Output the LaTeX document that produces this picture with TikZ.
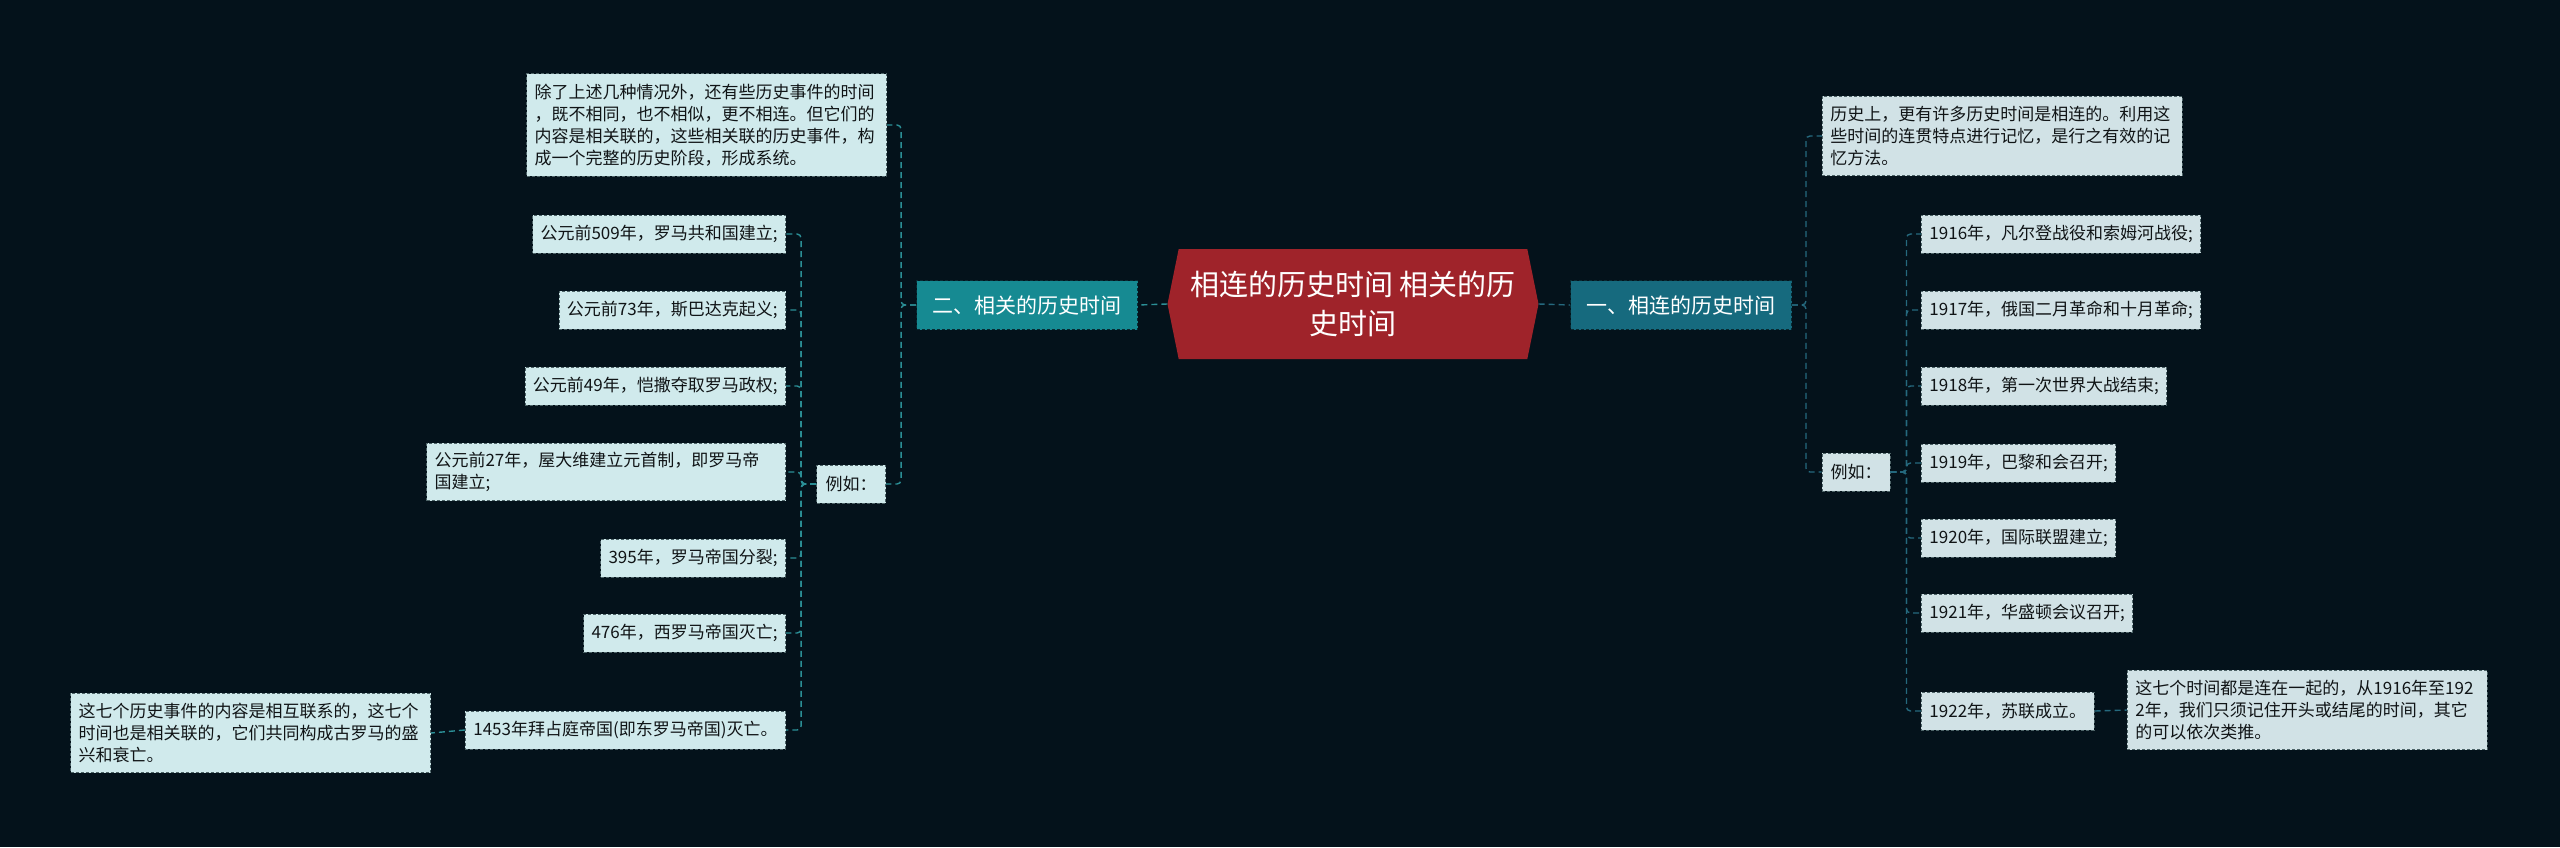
\documentclass[tikz,border=0pt]{standalone}
\usepackage{fontspec}
\setmainfont{Noto Sans CJK SC}
\usetikzlibrary{shapes.symbols}
\definecolor{bg}{HTML}{04121B}
\definecolor{rootred}{HTML}{9F232A}
\definecolor{brL}{HTML}{168A92}
\definecolor{brR}{HTML}{166A7E}
\definecolor{leafL}{HTML}{D0EAEC}
\definecolor{leafR}{HTML}{D1E2E6}
\definecolor{leafborder}{HTML}{4E6468}
\definecolor{lineL}{HTML}{2B8F96}
\definecolor{lineR}{HTML}{25697E}
\definecolor{txt}{HTML}{101416}
\tikzset{
  leafbox/.style={draw=leafborder, dash pattern=on 3pt off 2pt, line width=0.9pt,
    text=txt, font=\fontsize{17}{22}\selectfont, align=left,
    inner xsep=8pt, inner ysep=10pt},
  leafl/.style={leafbox, fill=leafL},
  leafr/.style={leafbox, fill=leafR},
  single/.style={minimum height=38pt, inner ysep=0pt},
  notew/.style={text width=344pt},
  branchbox/.style={draw=black!60!brR, dash pattern=on 3pt off 2pt, line width=0.9pt,
    text=white, font=\fontsize{21}{26}\selectfont, minimum width=221pt, minimum height=49pt, inner sep=0pt},
  conl/.style={draw=lineL, dash pattern=on 6pt off 4pt, line width=1.4pt, rounded corners=4pt},
  conr/.style={draw=lineR, dash pattern=on 6pt off 4pt, line width=1.4pt, rounded corners=4pt},
}
\begin{document}
\begin{tikzpicture}[x=1pt,y=-1pt]
\fill[bg] (0,0) rectangle (2560,847);
\useasboundingbox (0,0) rectangle (2560,847);

% root
\node[signal, signal to=west and east, signal pointer angle=157, fill=rootred,
  minimum width=371pt, minimum height=110pt, inner sep=0pt, text=white,
  align=center, font=\fontsize{29}{39}\selectfont] (root) at (1353,304)
  {相连的历史时间 相关的历\\史时间};

% branches
\node[branchbox, fill=brR] (b1) at (1681,305) {一、相连的历史时间};
\node[branchbox, fill=brL] (b2) at (1027,305) {二、相关的历史时间};

% right side
\node[leafr, notew, anchor=west] (rn) at (1822,136) {历史上，更有许多历史时间是相连的。利用这\\些时间的连贯特点进行记忆，是行之有效的记\\忆方法。};
\node[leafr, single, anchor=center, minimum width=68pt, inner xsep=0pt] (rex) at (1856,472) {例如：};
\node[leafr, single, anchor=west] (r1) at (1921,234) {1916年，凡尔登战役和索姆河战役;};
\node[leafr, single, anchor=west] (r2) at (1921,310) {1917年，俄国二月革命和十月革命;};
\node[leafr, single, anchor=west] (r3) at (1921,386) {1918年，第一次世界大战结束;};
\node[leafr, single, anchor=west] (r4) at (1921,463) {1919年，巴黎和会召开;};
\node[leafr, single, anchor=west] (r5) at (1921,538) {1920年，国际联盟建立;};
\node[leafr, single, anchor=west] (r6) at (1921,613) {1921年，华盛顿会议召开;};
\node[leafr, single, anchor=west] (r7) at (1921,711) {1922年，苏联成立。};
\node[leafr, notew, anchor=west] (rn2) at (2127,710) {这七个时间都是连在一起的，从1916年至192\\2年，我们只须记住开头或结尾的时间，其它\\的可以依次类推。};

% left side
\node[leafl, notew, anchor=east] (ln) at (887,125) {除了上述几种情况外，还有些历史事件的时间\\，既不相同，也不相似，更不相连。但它们的\\内容是相关联的，这些相关联的历史事件，构\\成一个完整的历史阶段，形成系统。};
\node[leafl, single, anchor=center, minimum width=69pt, inner xsep=0pt] (lex) at (851,484) {例如：};
\node[leafl, single, anchor=east] (l1) at (786,234) {公元前509年，罗马共和国建立;};
\node[leafl, single, anchor=east] (l2) at (786,310) {公元前73年，斯巴达克起义;};
\node[leafl, single, anchor=east] (l3) at (786,386) {公元前49年，恺撒夺取罗马政权;};
\node[leafl, anchor=east, text width=343pt, inner ysep=9pt] (l4) at (786,472) {公元前27年，屋大维建立元首制，即罗马帝\\国建立;};
\node[leafl, single, anchor=east] (l5) at (786,558) {395年，罗马帝国分裂;};
\node[leafl, single, anchor=east] (l6) at (786,633) {476年，西罗马帝国灭亡;};
\node[leafl, single, anchor=east] (l7) at (786,730) {1453年拜占庭帝国(即东罗马帝国)灭亡。};
\node[leafl, notew, anchor=east] (ln2) at (431,733) {这七个历史事件的内容是相互联系的，这七个\\时间也是相关联的，它们共同构成古罗马的盛\\兴和衰亡。};

% connectors
\draw[conl] (root.west) -- (b2.east);
\draw[conr] (root.east) -- (b1.west);

\foreach \t in {ln,lex} \draw[conl] (b2.west) -- ++(-15,0) |- (\t.east);
\foreach \t in {l1,l2,l3,l4,l5,l6,l7} \draw[conl] (lex.west) -- ++(-15,0) |- (\t.east);
\draw[conl] (l7.west) -- (ln2.east);

\foreach \t in {rn,rex} \draw[conr] (b1.east) -- ++(14,0) |- (\t.west);
\foreach \t in {r1,r2,r3,r4,r5,r6,r7} \draw[conr] (rex.east) -- ++(16,0) |- (\t.west);
\draw[conr] (r7.east) -- (rn2.west);
\end{tikzpicture}
\end{document}
